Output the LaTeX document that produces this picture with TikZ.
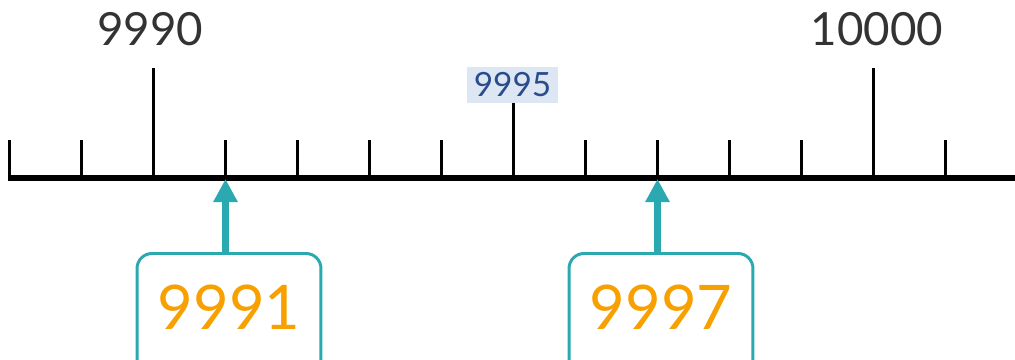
\documentclass[tikz,border=0pt]{standalone}
\usepackage{fontspec}
\setmainfont{Lato}
\usetikzlibrary{arrows.meta}
\definecolor{markteal}{HTML}{2BA9B1}
\definecolor{markorange}{HTML}{F7A000}
\definecolor{midfill}{HTML}{DDE7F3}
\definecolor{midtext}{HTML}{2B4C8C}
\definecolor{labelgray}{HTML}{333333}
\tikzset{
  numbox/.style={draw=markteal, line width=1.7pt, rounded corners=0.3cm, anchor=north,
    minimum width=3.68cm, inner sep=0pt, text height=1.52cm, text depth=1.3cm,
    text=markorange, font=\fontsize{35}{35}\selectfont},
  pointer/.style={markteal, line width=4.5pt, -{Triangle[width=0.46cm,length=0.46cm]}},
  endlabel/.style={text=labelgray, font=\fontsize{26}{26}\selectfont}
}
\begin{document}
\begin{tikzpicture}[x=0.02cm, y=-0.02cm]
    \clip (0,0) rectangle (1015,359);

    % Number line
    \draw[line width=3.7pt] (8,178) -- (1015,178);
    \foreach \i in {0,...,13}
        \draw[line width=1.7pt] (9.5+72*\i,178) -- (9.5+72*\i,140);
    \draw[line width=1.7pt] (153.5,178) -- (153.5,68);
    \draw[line width=1.7pt] (873.5,178) -- (873.5,68);
    \draw[line width=1.7pt] (513.5,178) -- (513.5,103);

    % Labels
    \node[endlabel] (l9990) at (150,29) {9990};
    \node[endlabel] (l10000) at (877,29) {10000};
    \node[fill=midfill, text=midtext, minimum width=1.82cm, minimum height=0.72cm,
          inner sep=0pt, font=\fontsize{19}{19}\selectfont] (l9995) at (512.5,85) {9995};

    % Marked numbers
    \coordinate (p9991) at (225.5,179);
    \coordinate (p9997) at (657.5,179);
    \node[numbox] (b9991) at (229,252) {9991};
    \node[numbox] (b9997) at (661,252) {9997};
    \draw[pointer] (b9991.north -| p9991) -- (p9991);
    \draw[pointer] (b9997.north -| p9997) -- (p9997);
\end{tikzpicture}
\end{document}
